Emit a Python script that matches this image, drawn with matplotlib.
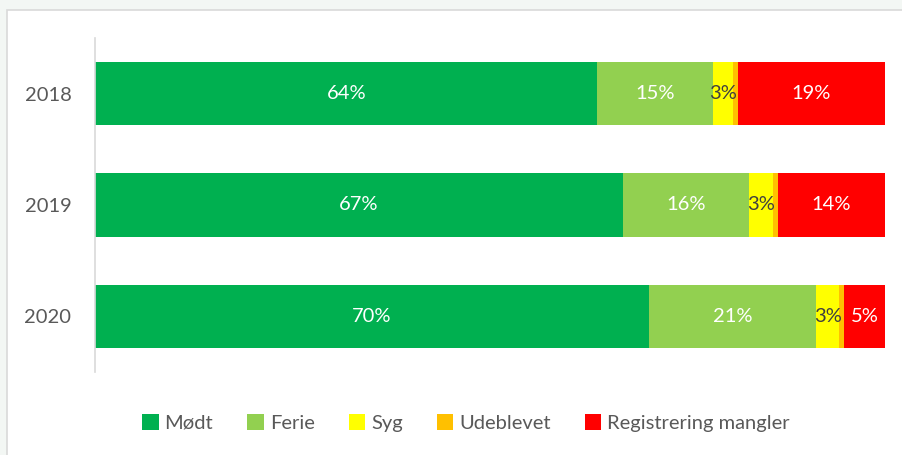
import matplotlib.pyplot as plt
from matplotlib.patches import Rectangle

# data (percent of registrations)
years = ['2018', '2019', '2020']
modt = [63.6, 66.8, 70.1]
ferie = [14.6, 16.0, 21.2]
syg = [2.6, 3.0, 2.9]
udeblevet = [0.6, 0.6, 0.6]
mangler = [18.6, 13.6, 5.2]

series = [('Mødt', modt, '#00b050', 'white'),
          ('Ferie', ferie, '#92d050', 'white'),
          ('Syg', syg, '#ffff00', '#404040'),
          ('Udeblevet', udeblevet, '#ffc000', None),
          ('Registrering mangler', mangler, '#ff0000', 'white')]

plt.rcParams['font.family'] = ['Lato', 'DejaVu Sans']

fig = plt.figure(figsize=(9.02, 4.55), dpi=100)
fig.patch.set_facecolor('#f3f7f4')
# white chart area with thin border
fig.patches.append(Rectangle((6.5 / 902, -0.01), 1.0, 1 - 9.5 / 455 + 0.01,
                             transform=fig.transFigure, facecolor='white',
                             edgecolor='#d9d9d9', linewidth=1.2, zorder=-5))

ax = fig.add_axes([95 / 902, (455 - 372) / 455, (885 - 95) / 902, (372 - 38) / 455])
ax.set_facecolor('none')
ax.set_zorder(2)

ypos = list(range(len(years)))
left = [0.0] * len(years)
for name, vals, col, tcol in series:
    bars = ax.barh(ypos, vals, left=left, height=0.57, color=col, label=name)
    if tcol is not None:
        for b, v in zip(bars, vals):
            ax.text(b.get_x() + b.get_width() / 2, b.get_y() + b.get_height() / 2,
                    f'{round(v):d}%', ha='center', va='center', color=tcol, fontsize=14.5)
    left = [l + v for l, v in zip(left, vals)]

ax.set_xlim(0, 100)
ax.set_ylim(2.5, -0.5)
ax.set_yticks(ypos)
ax.set_yticklabels(years, fontsize=14.5, color='#595959')
ax.tick_params(axis='y', length=0, pad=17)
ax.set_xticks([])
for s in ['top', 'right', 'bottom']:
    ax.spines[s].set_visible(False)
ax.spines['left'].set_color('#d9d9d9')
ax.spines['left'].set_linewidth(1.2)

leg = fig.legend(loc='center', bbox_to_anchor=(466 / 902, 1 - 423 / 455), ncol=5,
                 frameon=False, fontsize=14.5, handlelength=0.8, handleheight=0.8,
                 handletextpad=0.3, columnspacing=1.7)
for t in leg.get_texts():
    t.set_color('#595959')

fig.savefig('out.png', dpi=100, facecolor=fig.get_facecolor())
